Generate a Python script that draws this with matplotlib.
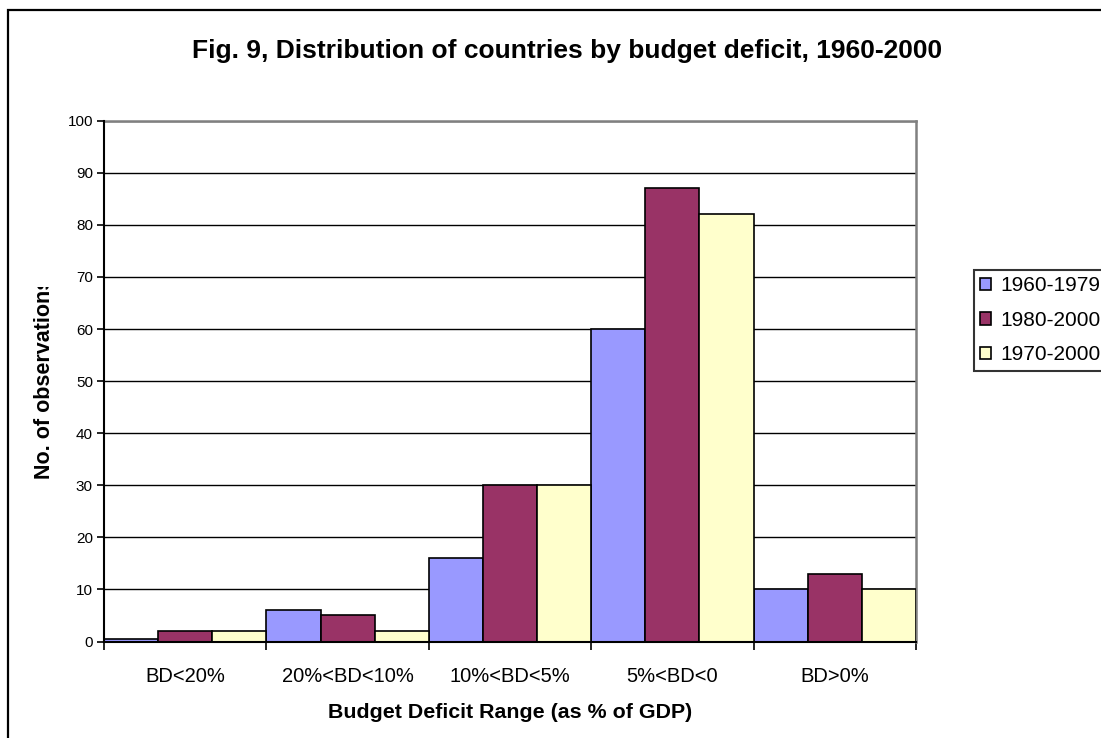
import numpy as np
import matplotlib
matplotlib.use("Agg")
import matplotlib.pyplot as plt
import matplotlib.patches as mpatches
from matplotlib.transforms import Bbox, TransformedBbox

plt.rcParams["font.family"] = ["Liberation Sans", "DejaVu Sans"]

# ── data ───────────────────────────────────────────────────────────────────────
categories = ["BD<20%", "20%<BD<10%", "10%<BD<5%", "5%<BD<0", "BD>0%"]
series_names = ["1960-1979", "1980-2000", "1970-2000"]
vals_1960_1979 = [0.5, 6, 16, 60, 10]
vals_1980_2000 = [2, 5, 30, 87, 13]
vals_1970_2000 = [2, 2, 30, 82, 10]
series_vals = [vals_1960_1979, vals_1980_2000, vals_1970_2000]
colors = ["#9999FF", "#993366", "#FFFFCC"]

W, H = 1101, 738
fig = plt.figure(figsize=(W / 100, H / 100), dpi=100)

# outer chart border (runs off the right and bottom edges)
fig.patches.append(mpatches.Rectangle((8 / W, -0.1), 1.2, 1.1 - 10 / H,
                                      transform=fig.transFigure, fill=False,
                                      edgecolor="black", lw=1.6))

ax = fig.add_axes([104 / W, 1 - 641.5 / H, (916 - 104) / W, (641.5 - 120.7) / H])

x = np.arange(len(categories))
bw = 1 / 3
for i, (vals, c, name) in enumerate(zip(series_vals, colors, series_names)):
    ax.bar(x - 0.5 + bw * (i + 0.5), vals, width=bw, color=c,
           edgecolor="black", lw=1.2, label=name, zorder=3)

ax.set_xlim(-0.5, len(categories) - 0.5)
ax.set_ylim(0, 100)
ax.set_yticks(range(0, 101, 10))
ax.tick_params(axis="y", labelsize=11, length=5, width=1.2, direction="out", pad=3)
ax.yaxis.grid(True, color="black", lw=1.0, zorder=0)

# x ticks at category boundaries, labels centred in each category
ax.set_xticks(np.arange(len(categories) + 1) - 0.5)
ax.set_xticklabels([])
ax.tick_params(axis="x", length=6, width=1.2, direction="out")
ax.set_xticks(x, minor=True)
ax.set_xticklabels(categories, minor=True, fontsize=14.5)
ax.tick_params(axis="x", which="minor", length=0, pad=18)

for s in ["left", "bottom"]:
    ax.spines[s].set_color("black")
    ax.spines[s].set_linewidth(1.5)
    ax.spines[s].set_zorder(4)
for s in ["top", "right"]:
    ax.spines[s].set_color("#808080")
    ax.spines[s].set_linewidth(1.8)

fig.text(567 / W, 1 - 58 / H, "Fig. 9, Distribution of countries by budget deficit, 1960-2000",
         ha="center", va="baseline", fontsize=19, fontweight="bold")
fig.text(510 / W, 1 - 713 / H, "Budget Deficit Range (as % of GDP)",
         ha="center", va="center", fontsize=15.4, fontweight="bold")
yl = fig.text(45 / W, 1 - 378 / H, "No. of observations", rotation=90,
              ha="center", va="center", fontsize=15.5, fontweight="bold")
# the label runs past its slot in the original, so its last letter is cut off
yl.set_clip_box(TransformedBbox(Bbox([[0, 0], [1, 1 - 287 / H]]), fig.transFigure))
yl.set_clip_on(True)

handles = [mpatches.Patch(facecolor=c, edgecolor="black", lw=1.2) for c in colors]
leg = fig.legend(handles, series_names, loc="upper left",
                 bbox_to_anchor=(974 / W, 1 - 270 / H), fontsize=15,
                 frameon=True, fancybox=False, handlelength=0.5, handleheight=0.55,
                 handletextpad=0.47, labelspacing=0.75, borderpad=0.3,
                 borderaxespad=0)
leg.get_frame().set_edgecolor("black")
leg.get_frame().set_linewidth(1.5)

fig.savefig("out.png", dpi=100)
